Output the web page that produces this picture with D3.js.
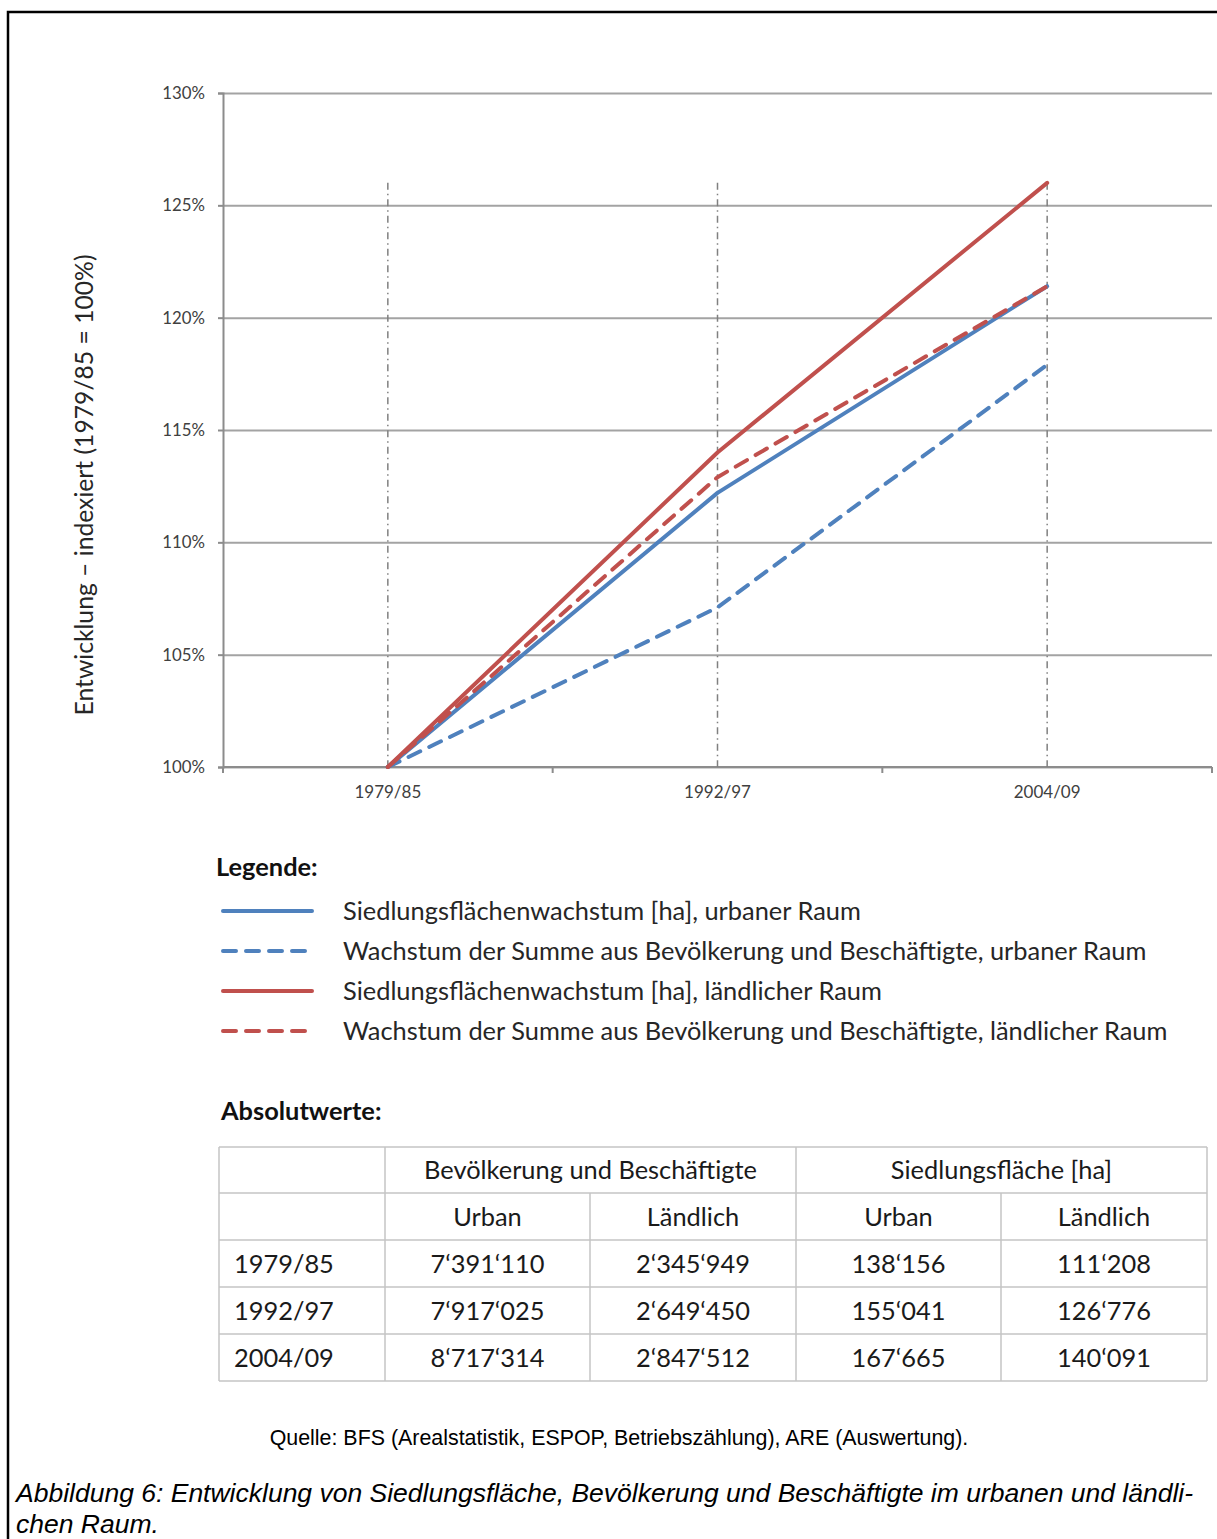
<!DOCTYPE html>
<html>
<head>
<meta charset="utf-8">
<script src="https://cdn.jsdelivr.net/npm/d3@7"></script>
<style>
  html, body { margin: 0; padding: 0; background: #fff; }
  svg { display: block; }
</style>
</head>
<body>
<svg id="chart" width="1217" height="1539"></svg>
<script>
// ---------------- DATA ----------------
const categories = ["1979/85", "1992/97", "2004/09"];
const urbanArea = [100, 112.2, 121.4];      // Siedlungsflächenwachstum, urban
const urbanPopEmp = [100, 107.1, 117.9];    // Bevölkerung + Beschäftigte, urban
const ruralArea = [100, 114.0, 126.0];      // Siedlungsflächenwachstum, ländlich
const ruralPopEmp = [100, 112.9, 121.4];    // Bevölkerung + Beschäftigte, ländlich
const yTicks = [100, 105, 110, 115, 120, 125, 130];
const seriesLabels = [
  "Siedlungsflächenwachstum [ha], urbaner Raum",
  "Wachstum der Summe aus Bevölkerung und Beschäftigte, urbaner Raum",
  "Siedlungsflächenwachstum [ha], ländlicher Raum",
  "Wachstum der Summe aus Bevölkerung und Beschäftigte, ländlicher Raum"
];
const yAxisTitle = "Entwicklung – indexiert (1979/85 = 100%)";

const tableYears = ["1979/85", "1992/97", "2004/09"];
const popEmpUrban = [7391110, 7917025, 8717314];
const popEmpRural = [2345949, 2649450, 2847512];
const areaUrban = [138156, 155041, 167665];
const areaRural = [111208, 126776, 140091];
const tableGroups = ["Bevölkerung und Beschäftigte", "Siedlungsfläche [ha]"];
const tableSubHeads = ["Urban", "Ländlich", "Urban", "Ländlich"];

const sourceText = "Quelle: BFS (Arealstatistik, ESPOP, Betriebszählung), ARE (Auswertung).";
const captionLines = [
  "Abbildung 6: Entwicklung von Siedlungsfläche, Bevölkerung und Beschäftigte im urbanen und ländli-",
  "chen Raum."
];

// ---------------- STYLE ----------------
const BLUE = "#4f81bd", RED = "#c0504d";
const FONT = "Lato, 'Open Sans', sans-serif";
const BODY = 25.4;
const series = [
  {values: urbanArea, color: BLUE, dash: null, label: seriesLabels[0]},
  {values: urbanPopEmp, color: BLUE, dash: "13,10", label: seriesLabels[1]},
  {values: ruralArea, color: RED, dash: null, label: seriesLabels[2]},
  {values: ruralPopEmp, color: RED, dash: "13,10", label: seriesLabels[3]}
];

const svg = d3.select("#chart");
svg.append("rect").attr("width", 1217).attr("height", 1539).attr("fill", "#fff");

// frame
svg.append("path").attr("d", "M8,1539 L8,12 L1217,12")
  .attr("fill", "none").attr("stroke", "#000").attr("stroke-width", 2.5);

// ---------------- SCALES ----------------
const plot = {left: 223, right: 1212, top: 93, bottom: 767};
const x = d3.scaleBand().domain(categories).range([plot.left, plot.right]);
const xc = c => x(c) + x.bandwidth() / 2;
const y = d3.scaleLinear().domain([100, 130]).range([plot.bottom, plot.top]);

// gridlines
const grid = svg.append("g").attr("transform", `translate(${plot.left},0)`)
  .call(d3.axisLeft(y).tickValues(yTicks).tickSize(-(plot.right - plot.left)).tickFormat(""));
grid.select(".domain").remove();
grid.selectAll("line").attr("stroke", "#a3a3a3").attr("stroke-width", 2);

// y axis
const yAx = svg.append("g").attr("transform", `translate(${plot.left},0)`)
  .call(d3.axisLeft(y).tickValues(yTicks).tickSize(5).tickPadding(13).tickFormat(d => d + "%"));
yAx.select(".domain").attr("stroke", "#8c8c8c").attr("stroke-width", 2);
yAx.selectAll("line").attr("stroke", "#8c8c8c").attr("stroke-width", 2);
yAx.selectAll("text").attr("font-family", FONT).attr("font-size", 16.8).attr("fill", "#404040");

// x axis (labels at centres, ticks at band boundaries)
const xAx = svg.append("g").attr("transform", `translate(0,${plot.bottom})`)
  .call(d3.axisBottom(x).tickSize(0).tickPadding(19));
xAx.select(".domain").attr("stroke", "#8c8c8c").attr("stroke-width", 2)
  .attr("d", `M${plot.left},0H${plot.right}`);
xAx.selectAll("text").attr("font-family", FONT).attr("font-size", 17).attr("fill", "#404040");
const bounds = [x(categories[0])].concat(categories.map(c => x(c) + x.bandwidth()));
xAx.selectAll("line.bound").data(bounds).join("line").attr("class", "bound")
  .attr("x1", d => d).attr("x2", d => d).attr("y1", 0).attr("y2", 6)
  .attr("stroke", "#8c8c8c").attr("stroke-width", 2);

// drop lines
const maxVal = d3.max(series.flatMap(s => s.values));
svg.append("g").selectAll("line").data(categories).join("line")
  .attr("x1", d => xc(d)).attr("x2", d => xc(d))
  .attr("y1", y(maxVal)).attr("y2", y(100))
  .attr("stroke", "#808080").attr("stroke-width", 1.5)
  .attr("stroke-dasharray", "7,4,1.5,4");

// series lines
const line = d3.line().x((d, i) => xc(categories[i])).y(d => y(d));
svg.append("g").selectAll("path").data(series).join("path")
  .attr("d", d => line(d.values))
  .attr("fill", "none").attr("stroke", d => d.color).attr("stroke-width", 4)
  .attr("stroke-linecap", "round").attr("stroke-linejoin", "round")
  .attr("stroke-dasharray", d => d.dash);

// y axis title
svg.append("text").attr("transform", "translate(93,485) rotate(-90)")
  .attr("text-anchor", "middle").attr("font-family", FONT).attr("font-size", 24.7)
  .attr("fill", "#262626").text(yAxisTitle);

// ---------------- LEGEND ----------------
svg.append("text").attr("x", 216).attr("y", 876).attr("font-family", FONT)
  .attr("font-size", BODY).attr("font-weight", "bold").attr("fill", "#111").text("Legende:");
const lg = svg.append("g").selectAll("g").data(series).join("g")
  .attr("transform", (d, i) => `translate(0,${911 + i * 40})`);
lg.append("line").attr("x1", 223).attr("x2", d => d.dash ? 305 : 312)
  .attr("stroke", d => d.color).attr("stroke-width", 4).attr("stroke-linecap", "round")
  .attr("stroke-dasharray", d => d.dash ? "13,10" : null);
lg.append("text").attr("x", 343).attr("y", 9).attr("font-family", FONT).attr("font-size", BODY)
  .attr("fill", "#262626").text(d => d.label);

// ---------------- TABLE ----------------
svg.append("text").attr("x", 221).attr("y", 1120).attr("font-family", FONT)
  .attr("font-size", BODY).attr("font-weight", "bold").attr("fill", "#111").text("Absolutwerte:");

const colX = [219, 385, 590, 796, 1001, 1207];
const rowY = [1147, 1193, 1240, 1287, 1334, 1381];
const fmt = d3.formatLocale({thousands: "‘", grouping: [3], decimal: ".", currency: ["", ""]}).format(",d");
const tbl = svg.append("g");
const BC = "#c4c4c4";
// horizontal borders
tbl.selectAll("line.h").data(rowY).join("line").attr("class", "h")
  .attr("x1", colX[0]).attr("x2", colX[5]).attr("y1", d => d).attr("y2", d => d)
  .attr("stroke", BC).attr("stroke-width", 1.5);
// vertical borders
const vLines = [
  {x: colX[0], y1: rowY[0]}, {x: colX[1], y1: rowY[0]}, {x: colX[2], y1: rowY[1]},
  {x: colX[3], y1: rowY[0]}, {x: colX[4], y1: rowY[1]}, {x: colX[5], y1: rowY[0]}
];
tbl.selectAll("line.v").data(vLines).join("line").attr("class", "v")
  .attr("x1", d => d.x).attr("x2", d => d.x).attr("y1", d => d.y1).attr("y2", rowY[5])
  .attr("stroke", BC).attr("stroke-width", 1.5);

const cellText = (txt, cx, cy, anchor) => tbl.append("text").attr("x", cx).attr("y", cy + 9)
  .attr("text-anchor", anchor).attr("font-family", FONT).attr("font-size", BODY)
  .attr("fill", "#1a1a1a").text(txt);
const midY = r => (rowY[r] + rowY[r + 1]) / 2;
const midX = c => (colX[c] + colX[c + 1]) / 2;
cellText(tableGroups[0], (colX[1] + colX[3]) / 2, midY(0), "middle");
cellText(tableGroups[1], (colX[3] + colX[5]) / 2, midY(0), "middle");
tableSubHeads.forEach((t, i) => cellText(t, midX(i + 1), midY(1), "middle"));
const cols = [popEmpUrban, popEmpRural, areaUrban, areaRural];
tableYears.forEach((yr, r) => {
  cellText(yr, colX[0] + 15, midY(r + 2), "start");
  cols.forEach((arr, c) => cellText(fmt(arr[r]), midX(c + 1), midY(r + 2), "middle"));
});

// ---------------- SOURCE & CAPTION ----------------
svg.append("text").attr("x", 619).attr("y", 1445).attr("text-anchor", "middle")
  .attr("font-family", "'Liberation Sans', Arial, sans-serif").attr("font-size", 21.4)
  .attr("fill", "#000").text(sourceText);
svg.selectAll("text.cap").data(captionLines).join("text").attr("class", "cap")
  .attr("x", 16).attr("y", (d, i) => 1502 + i * 31)
  .attr("font-family", "'Liberation Sans', Arial, sans-serif").attr("font-size", 26.5)
  .attr("font-style", "italic").attr("fill", "#000").text(d => d);
</script>
</body>
</html>
